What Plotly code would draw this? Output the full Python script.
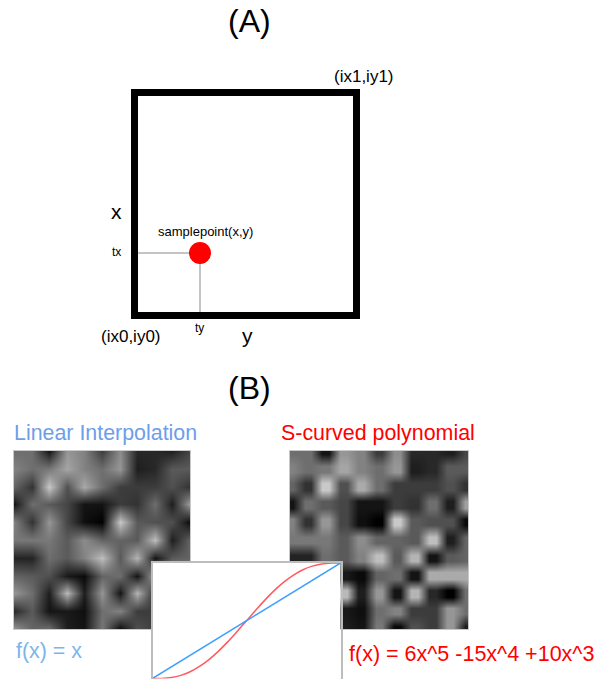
import numpy as np
import plotly.graph_objects as go

W, H = 596, 679

# Lattice of gradient-noise grey levels (rows top to bottom, columns left to right)
noise_lattice = [
    [110, 110,  20, 150, 130,  60, 140,  40,  40,  30,  70],
    [130, 110, 120, 165, 130, 110, 150,  30,  40,  90,  90],
    [100,  50, 200,  80, 170, 110,  60,  60,  60,  80,  50],
    [ 20, 110,  90,  70,  20,  20,  60,  50, 110,  30, 160],
    [130,  50, 150,  70,  15,   0, 200,  90,  80,  80,  10],
    [120, 120, 120,  90, 140, 100, 100,  90, 190,  30, 100],
    [ 35,  35, 110,  90, 130, 190,  90, 180,  20,  90, 100],
    [100,  90,  80,  25,  10, 100, 110,  20, 170, 170, 170],
    [150, 110,  30, 185,  30, 150,  20, 180,  40,   0, 110],
    [ 40,  90,  20,  25,  15, 110, 130,  60,  60, 150, 110],
    [150, 100, 110,  30,  20, 120,  10,  80,  60, 150,  30],
]
lattice_pos = list(range(11))

# Curves of the inset
curve_x = [0, .05, .1, .15, .2, .25, .3, .35, .4, .45, .5, .55, .6, .65, .7, .75, .8, .85, .9, .95, 1]
linear_y = [0, .05, .1, .15, .2, .25, .3, .35, .4, .45, .5, .55, .6, .65, .7, .75, .8, .85, .9, .95, 1]
scurve_y = [0, .001, .009, .027, .058, .104, .163, .235, .317, .407, .5,
            .593, .683, .765, .837, .896, .942, .973, .991, .999, 1]

# Diagram (A): unit cell and the sample point
cell_x = [0, 1]
cell_y = [0, 1]
sample_tx = 0.295
sample_ty = 0.28

GREY = [[0, "#000000"], [1, "#ffffff"]]
FONT = "Liberation Sans, Arial, sans-serif"


def dom_x(a, b):
    return [a / W, b / W]


def dom_y(top, bottom):
    return [1 - bottom / H, 1 - top / H]


fig = go.Figure()

# (A) guide lines and sample point
fig.add_trace(go.Scatter(x=[0, sample_tx], y=[sample_ty, sample_ty], mode="lines",
                         line=dict(color="#c4c4c4", width=2), xaxis="x", yaxis="y", hoverinfo="skip"))
fig.add_trace(go.Scatter(x=[sample_tx, sample_tx], y=[0, sample_ty], mode="lines",
                         line=dict(color="#c4c4c4", width=2), xaxis="x", yaxis="y", hoverinfo="skip"))
fig.add_trace(go.Scatter(x=[sample_tx], y=[sample_ty], mode="markers",
                         marker=dict(color="#ff0000", size=22, line=dict(width=0)),
                         xaxis="x", yaxis="y", hoverinfo="skip"))

# (B) left: linear interpolation between lattice values
fig.add_trace(go.Heatmap(z=noise_lattice, x=lattice_pos, y=lattice_pos, zmin=0, zmax=255,
                         colorscale=GREY, showscale=False, zsmooth="best",
                         xaxis="x2", yaxis="y2", hoverinfo="skip"))

# (B) right: same lattice, with plateaus around each lattice point giving the S-curved fade
plateau = 0.18
warp = [p + s for p in lattice_pos for s in (-plateau, plateau)]
z_warp = np.repeat(np.repeat(np.array(noise_lattice), 2, axis=0), 2, axis=1)
fig.add_trace(go.Heatmap(z=z_warp.tolist(), x=warp, y=warp, zmin=0, zmax=255,
                         colorscale=GREY, showscale=False, zsmooth="best",
                         xaxis="x3", yaxis="y3", hoverinfo="skip"))

# Inset curves
fig.add_trace(go.Scatter(x=curve_x, y=scurve_y, mode="lines", line=dict(color="#ff5a5f", width=1.5, shape="spline"),
                         xaxis="x4", yaxis="y4", hoverinfo="skip", cliponaxis=False))
fig.add_trace(go.Scatter(x=curve_x, y=linear_y, mode="lines", line=dict(color="#3fa0ff", width=1.5),
                         xaxis="x4", yaxis="y4", hoverinfo="skip", cliponaxis=False))

hidden = dict(visible=False, fixedrange=True)
frame = dict(showline=True, mirror=True, linecolor="#c8c8c8", linewidth=1, ticks="",
             showticklabels=False, showgrid=False, zeroline=False, fixedrange=True)
inset = dict(frame, linecolor="#bdbdbd", linewidth=2)

fig.update_layout(
    width=W, height=H, autosize=False, showlegend=False,
    margin=dict(l=0, r=0, t=0, b=0),
    paper_bgcolor="#ffffff", plot_bgcolor="#ffffff",
    xaxis=dict(hidden, domain=dom_x(134.5 - 11.1, 356.5 + 11.1), range=[-0.05, 1.05]),
    yaxis=dict(hidden, domain=dom_y(92.5 - 11.15, 315.5 + 11.15), range=[-0.05, 1.05], anchor="x"),
    xaxis2=dict(frame, domain=dom_x(14, 190), range=[0, 10], anchor="y2"),
    yaxis2=dict(frame, domain=dom_y(451, 629), range=[10, 0], anchor="x2"),
    xaxis3=dict(frame, domain=dom_x(290, 468), range=[0, 10], anchor="y3"),
    yaxis3=dict(frame, domain=dom_y(451, 629), range=[10, 0], anchor="x3"),
    xaxis4=dict(inset, domain=dom_x(152.5, 340.5), range=[0, 1], anchor="y4"),
    yaxis4=dict(inset, domain=dom_y(563, 678.5), range=[0, 1], anchor="x4"),
    shapes=[dict(type="rect", xref="x", yref="y", x0=cell_x[0], x1=cell_x[1], y0=cell_y[0], y1=cell_y[1],
                 line=dict(color="#000000", width=7), layer="above")],
)


def label(text, x, y, size, color="#000000", anchor="center"):
    fig.add_annotation(text=text, x=x / W, y=1 - y / H, xref="paper", yref="paper",
                       showarrow=False, xanchor=anchor, yanchor="middle", borderpad=0, borderwidth=0,
                       font=dict(family=FONT, size=size, color=color))


label("(A)", 249.5, 21, 32)
label("(B)", 249.5, 388, 32)
label("(ix1,iy1)", 364, 76, 17)
label("(ix0,iy0)", 131, 336, 17)
label("x", 116, 211, 21)
label("y", 247, 335, 21)
label("tx", 116, 252, 12)
label("ty", 199, 328, 12)
label("samplepoint(x,y)", 205.5, 231, 13)
label("Linear Interpolation", 14, 433, 21.4, "#6d9eeb", "left")
label("S-curved polynomial", 281, 433, 21.4, "#ff0000", "left")
label("f(x) = x", 16, 651, 21.4, "#7ab6ea", "left")
label("f(x) = 6x^5 -15x^4 +10x^3", 349, 654, 21.5, "#ff0000", "left")

fig.write_html("out.html", config={"displayModeBar": False},
               post_script="document.body.style.margin='0';document.body.style.overflow='hidden';")
